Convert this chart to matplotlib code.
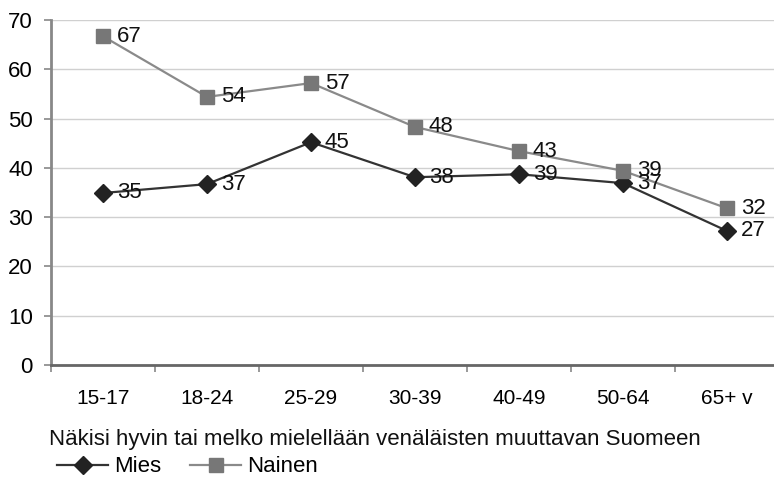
import matplotlib
matplotlib.use('Agg')
import matplotlib.pyplot as plt
import numpy as np

plt.rcParams['font.family'] = ['Liberation Sans', 'DejaVu Sans']

# ikäryhmät
categories = ['15-17', '18-24', '25-29', '30-39', '40-49', '50-64', '65+ v']
# arvot kuvasta luettuna
mies = [34.9, 36.7, 45.2, 38.1, 38.7, 36.9, 27.2]
nainen = [66.7, 54.4, 57.2, 48.3, 43.4, 39.4, 31.8]
mies_labels = ['35', '37', '45', '38', '39', '37', '27']
nainen_labels = ['67', '54', '57', '48', '43', '39', '32']

fig = plt.figure(figsize=(7.74, 4.78), dpi=100)
ax = fig.add_axes([51/774, 113/478, 728/774, 345/478])

x = np.arange(len(categories))

ax.plot(x, mies, color='#333333', lw=1.6, marker='D', markersize=9,
        markerfacecolor='#222222', markeredgecolor='#222222', label='Mies', zorder=3)
ax.plot(x, nainen, color='#8a8a8a', lw=1.6, marker='s', markersize=10,
        markerfacecolor='#777777', markeredgecolor='#777777', label='Nainen', zorder=3)

for xi, v, t in zip(x, mies, mies_labels):
    ax.annotate(t, (xi, v), xytext=(10, 0), textcoords='offset points',
                ha='left', va='center', fontsize=16, color='#111111', zorder=4)
for xi, v, t in zip(x, nainen, nainen_labels):
    ax.annotate(t, (xi, v), xytext=(10, 0), textcoords='offset points',
                ha='left', va='center', fontsize=16, color='#111111', zorder=4)

ax.set_xlim(-0.5, len(categories) - 0.5)
ax.set_ylim(0, 70)
ax.set_yticks(range(0, 71, 10))
ax.tick_params(axis='y', labelsize=16, length=5, color='#888888', width=1.2, pad=8)
ax.set_xticks(x)
ax.set_xticklabels(categories)
ax.set_xticks(np.arange(-0.5, len(categories), 1), minor=True)
ax.tick_params(axis='x', which='major', length=0, labelsize=15, pad=17)
ax.tick_params(axis='x', which='minor', length=5, color='#888888', width=1.2)

ax.grid(axis='y', color='#d0d0d0', lw=1)
ax.set_axisbelow(True)
for s in ['top', 'right']:
    ax.spines[s].set_visible(False)
ax.spines['left'].set_color('#888888')
ax.spines['left'].set_linewidth(2)
ax.spines['bottom'].set_color('#666666')
ax.spines['bottom'].set_linewidth(2)

fig.text(49/774, 1 - 439/478, 'Näkisi hyvin tai melko mielellään venäläisten muuttavan Suomeen',
         fontsize=16, ha='left', va='center', color='#111111')
fig.legend(loc='center left', bbox_to_anchor=(57/774, 1 - 467/478), ncol=2, frameon=False,
           fontsize=16, handlelength=2.3, handletextpad=0.27, columnspacing=1.3,
           borderaxespad=0, borderpad=0)

fig.savefig('out.png', dpi=100)
